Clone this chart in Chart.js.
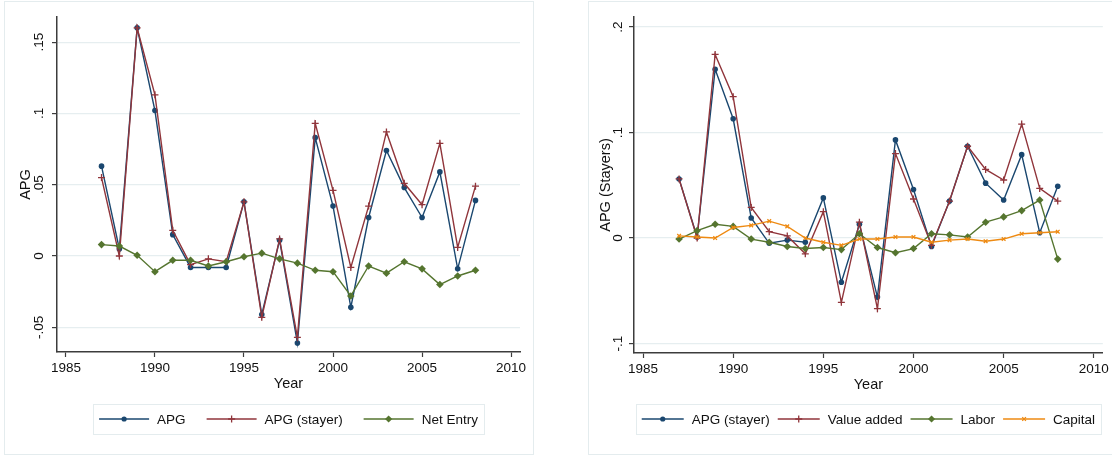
<!DOCTYPE html>
<html><head><meta charset="utf-8">
<script src="https://cdn.jsdelivr.net/npm/chart.js@4.4.1/dist/chart.umd.min.js"></script>
<style>
html,body{margin:0;padding:0;background:#fff;width:1112px;height:457px;overflow:hidden}
.panel{position:absolute;border:1px solid #e4ecee;box-sizing:border-box}
.wrap{position:absolute;top:0;width:556px;height:457px}
canvas{display:block}
</style></head><body>
<div class="panel" style="left:4px;top:1px;width:530px;height:454px"></div>
<div class="panel" style="left:588px;top:1px;width:540px;height:454px"></div>
<div class="wrap" style="left:0"><canvas id="c1" width="556" height="457" style="width:556px;height:457px"></canvas></div>
<div class="wrap" style="left:556px"><canvas id="c2" width="556" height="457" style="width:556px;height:457px"></canvas></div>
<script>
// ---- data ----
const years = [1987,1988,1989,1990,1991,1992,1993,1994,1995,1996,1997,1998,1999,2000,2001,2002,2003,2004,2005,2006,2007,2008];
const leftApg        = [0.063,0.005,0.160,0.102,0.015,-0.008,-0.008,-0.008,0.038,-0.041,0.011,-0.061,0.083,0.035,-0.036,0.027,0.074,0.048,0.027,0.059,-0.009,0.039];
const leftApgStayer  = [0.055,0.000,0.160,0.113,0.018,-0.006,-0.002,-0.004,0.038,-0.043,0.012,-0.057,0.093,0.046,-0.008,0.035,0.087,0.051,0.036,0.079,0.006,0.049];
const leftNetEntry   = [0.008,0.007,0.0005,-0.011,-0.003,-0.003,-0.007,-0.004,-0.0005,0.002,-0.002,-0.005,-0.010,-0.011,-0.028,-0.007,-0.012,-0.004,-0.009,-0.020,-0.014,-0.010];
const rightApgStayer = [0.056,0.001,0.160,0.113,0.019,-0.005,-0.002,-0.004,0.038,-0.042,0.013,-0.056,0.093,0.046,-0.008,0.035,0.087,0.052,0.036,0.079,0.005,0.049];
const rightValueAdded= [0.056,0.000,0.174,0.134,0.029,0.006,0.002,-0.015,0.025,-0.061,0.015,-0.067,0.080,0.037,-0.007,0.035,0.087,0.065,0.055,0.108,0.047,0.035];
const rightLabor     = [-0.001,0.007,0.013,0.011,-0.001,-0.004,-0.008,-0.010,-0.009,-0.011,0.004,-0.009,-0.014,-0.010,0.004,0.003,0.001,0.015,0.020,0.026,0.036,-0.020];
const rightCapital   = [0.002,0.001,0.000,0.010,0.012,0.016,0.011,0.000,-0.004,-0.007,-0.001,-0.001,0.001,0.001,-0.004,-0.002,-0.001,-0.003,-0.001,0.004,0.005,0.006];
const xTicks = [1985,1990,1995,2000,2005,2010];
const leftYTicks = [-0.05,0,0.05,0.1,0.15];
const leftYTickLabels = ['-.05','0','.05','.1','.15'];
const rightYTicks = [-0.1,0,0.1,0.2];
const rightYTickLabels = ['-.1','0','.1','.2'];

// ---- styles ----
const NAVY='#1a476f', MAROON='#90353b', GREEN='#55752f', ORANGE='#ee8a12';
const FONT='"Liberation Sans", Arial, Helvetica, sans-serif';
const AXIS='#3c3c3c', GRID='#e6eef0', TXT='#111';
const TICKSIZE=13.5, LEGSIZE=13.5, TITLESIZE=14.5;

function drawMarker(ctx, style, r, x, y, color){
  ctx.save();
  ctx.fillStyle=color; ctx.strokeStyle=color; ctx.lineWidth=1.3;
  ctx.beginPath();
  if(style==='circle'){ctx.arc(x,y,r,0,Math.PI*2);ctx.fill();}
  else if(style==='rectRot'){ctx.moveTo(x,y-r);ctx.lineTo(x+r,y);ctx.lineTo(x,y+r);ctx.lineTo(x-r,y);ctx.closePath();ctx.fill();}
  else if(style==='cross'){ctx.moveTo(x-r,y);ctx.lineTo(x+r,y);ctx.moveTo(x,y-r);ctx.lineTo(x,y+r);ctx.stroke();}
  else if(style==='crossRot'){const d=r*0.7071;ctx.moveTo(x-d,y-d);ctx.lineTo(x+d,y+d);ctx.moveTo(x+d,y-d);ctx.lineTo(x-d,y+d);ctx.stroke();}
  ctx.restore();
}

function makeChart(id, cfg){
  const n = cfg.series.length;
  const datasets = cfg.series.map((s,i)=>({
    label:s.label,
    data: years.map((yr,k)=>({x:yr,y:s.values[k]})),
    borderColor:s.color, backgroundColor:s.color,
    borderWidth:1.4, tension:0,
    pointStyle:s.style, pointRadius:s.radius, pointBorderWidth:s.style.indexOf('cross')===0?1.3:0,
    pointBackgroundColor:s.color, pointBorderColor:s.color,
    order:n-i,
    _lr:s.legendRadius
  }));
  const yLabelPlugin = {
    id:'yLabels',
    afterDraw(chart){
      const ctx=chart.ctx, ys=chart.scales.y;
      ctx.save();
      ctx.font=TICKSIZE+'px '+FONT; ctx.fillStyle=TXT; ctx.textAlign='center'; ctx.textBaseline='middle';
      cfg.yTicks.forEach((v,i)=>{
        const py=ys.getPixelForValue(v);
        ctx.save(); ctx.translate(cfg.tickLabelX,py); ctx.rotate(-Math.PI/2);
        ctx.fillText(cfg.yLabels[i],0,0); ctx.restore();
      });
      ctx.restore();
    }
  };
  const legendPlugin = {
    id:'customLegend',
    afterDraw(chart){
      const ctx=chart.ctx, ca=chart.chartArea;
      ctx.save();
      ctx.font=LEGSIZE+'px '+FONT;
      const L=cfg.legend;
      const items=chart.data.datasets.map(d=>({d, w:ctx.measureText(d.label).width}));
      let total=items.reduce((a,it)=>a+L.lineLen+L.gap+it.w,0)+L.itemGap*(items.length-1);
      const cx=(ca.left+ca.right)/2;
      let x=cx-total/2;
      const top=404, h=30, cy=top+h/2;
      ctx.fillStyle='#fff'; ctx.fillRect(x-6,top,total+12,h);
      ctx.strokeStyle='#e4ecee'; ctx.lineWidth=1;
      ctx.strokeRect(Math.round(x-6)+0.5,top+0.5,Math.round(total+12),h);
      items.forEach(it=>{
        const c=it.d.borderColor;
        ctx.strokeStyle=c; ctx.lineWidth=1.4; ctx.beginPath();
        ctx.moveTo(x,cy); ctx.lineTo(x+L.lineLen,cy); ctx.stroke();
        drawMarker(ctx,it.d.pointStyle,it.d._lr,x+L.lineLen/2,cy,c);
        ctx.fillStyle=TXT; ctx.textAlign='left'; ctx.textBaseline='middle';
        ctx.fillText(it.d.label,x+L.lineLen+L.gap,cy+1);
        x+=L.lineLen+L.gap+it.w+L.itemGap;
      });
      ctx.restore();
    }
  };
  return new Chart(document.getElementById(id),{
    type:'line',
    data:{datasets},
    plugins:[yLabelPlugin, legendPlugin],
    options:{
      responsive:false, animation:false, events:[],
      layout:{padding:cfg.padding},
      plugins:{legend:{display:false},tooltip:{enabled:false}},
      scales:{
        x:{type:'linear',min:1984.5,max:2010.5,
           afterBuildTicks(s){s.ticks=xTicks.map(v=>({value:v}));},
           afterFit(s){s.height=41;},
           grid:{drawOnChartArea:false,drawTicks:true,tickLength:5,tickColor:AXIS,tickWidth:1.2},
           border:{display:true,color:AXIS,width:1.5},
           ticks:{autoSkip:false,maxRotation:0,minRotation:0,padding:3,color:TXT,font:{family:FONT,size:TICKSIZE},callback:v=>String(v)},
           title:{display:true,text:'Year',color:TXT,font:{family:FONT,size:TITLESIZE},padding:{top:0,bottom:0}}
        },
        y:{type:'linear',min:cfg.yMin,max:cfg.yMax,
           afterBuildTicks(s){s.ticks=cfg.yTicks.map(v=>({value:v}));},
           afterFit(s){s.width=cfg.axisWidth;},
           grid:{color:GRID,lineWidth:1.2,drawTicks:true,tickLength:5,tickColor:AXIS,tickWidth:1.2},
           border:{display:true,color:AXIS,width:1.5},
           ticks:{display:false},
           title:{display:true,text:cfg.yTitle,color:TXT,font:{family:FONT,size:TITLESIZE},padding:{top:cfg.titlePad,bottom:0}}
        }
      }
    }
  });
}

makeChart('c1',{
  series:[
    {label:'APG',values:leftApg,color:NAVY,style:'circle',radius:2.8,legendRadius:2.6},
    {label:'APG (stayer)',values:leftApgStayer,color:MAROON,style:'cross',radius:3.5,legendRadius:3.5},
    {label:'Net Entry',values:leftNetEntry,color:GREEN,style:'rectRot',radius:3.8,legendRadius:3.6}
  ],
  yTicks:leftYTicks, yLabels:leftYTickLabels, yMin:-0.0673, yMax:0.1676,
  yTitle:'APG', axisWidth:57, tickLabelX:39, titlePad:17.5,
  padding:{left:0,right:36,top:17,bottom:64},
  legend:{lineLen:50,gap:8,itemGap:21}
});
makeChart('c2',{
  series:[
    {label:'APG (stayer)',values:rightApgStayer,color:NAVY,style:'circle',radius:2.8,legendRadius:2.6},
    {label:'Value added',values:rightValueAdded,color:MAROON,style:'cross',radius:3.5,legendRadius:3.5},
    {label:'Labor',values:rightLabor,color:GREEN,style:'rectRot',radius:3.8,legendRadius:3.6},
    {label:'Capital',values:rightCapital,color:ORANGE,style:'crossRot',radius:2.6,legendRadius:2.6}
  ],
  yTicks:rightYTicks, yLabels:rightYTickLabels, yMin:-0.109, yMax:0.2095,
  yTitle:'APG (Stayers)', axisWidth:78, tickLabelX:62, titlePad:41,
  padding:{left:0,right:9,top:17,bottom:63},
  legend:{lineLen:42,gap:8,itemGap:8}
});
</script>
</body></html>
